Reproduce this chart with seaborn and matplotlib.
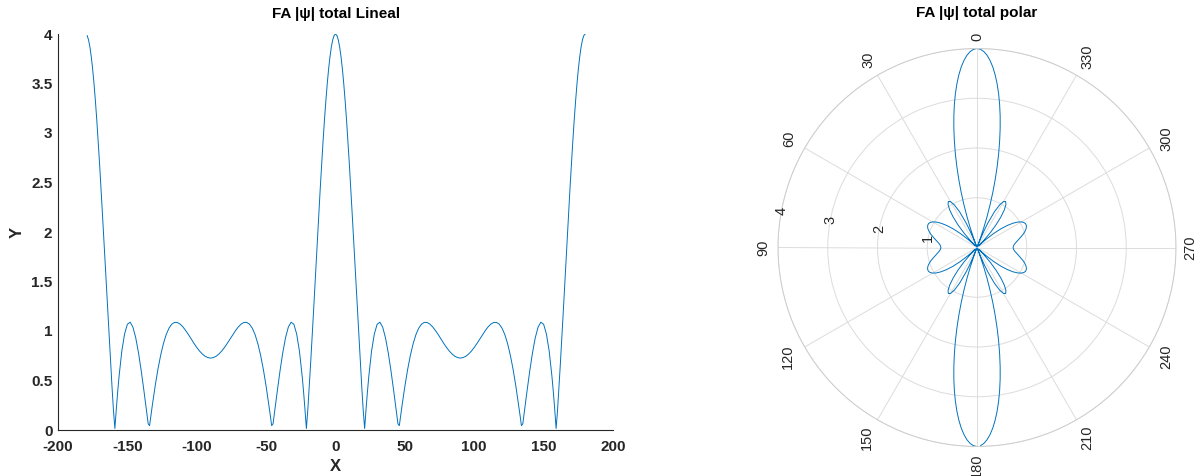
import numpy as np
import pandas as pd
import matplotlib
matplotlib.use("Agg")
import matplotlib.pyplot as plt
import seaborn as sns

# the pattern is symmetric about 0 deg and about +/-90 deg.
half_angles = [0, 1, 2, 3, 4, 5, 6, 7, 8, 9, 10, 11, 12, 13, 14, 15, 16, 17, 18,
               19, 20, 21, 22, 23, 24, 26, 28, 30, 32, 34, 36, 38, 40, 42, 44,
               45, 46, 47, 48, 50, 52, 54, 56, 58, 60, 62, 64, 66, 68, 70, 72,
               74, 76, 78, 80, 82, 84, 86, 88, 90]
half_values = [4.000, 3.985, 3.941, 3.869, 3.768, 3.642, 3.490, 3.316, 3.122,
               2.909, 2.681, 2.440, 2.190, 1.934, 1.673, 1.412, 1.154, 0.900,
               0.654, 0.418, 0.194, 0.015, 0.208, 0.384, 0.541, 0.798, 0.971,
               1.068, 1.089, 1.039, 0.933, 0.781, 0.596, 0.389, 0.172, 0.063,
               0.044, 0.149, 0.251, 0.442, 0.612, 0.756, 0.874, 0.965, 1.029,
               1.069, 1.087, 1.086, 1.070, 1.042, 1.005, 0.965, 0.919, 0.875,
               0.834, 0.798, 0.768, 0.745, 0.732, 0.726]
x_start = -179

x_ticks = [-200, -150, -100, -50, 0, 50, 100, 150, 200]
x_tick_labels = ["-200", "-150", "-100", "-50", "0", "50", "100", "150", "200"]
y_ticks = [0, 0.5, 1, 1.5, 2, 2.5, 3, 3.5, 4]
y_tick_labels = ["0", "0.5", "1", "1.5", "2", "2.5", "3", "3.5", "4"]
theta_ticks = [0, 30, 60, 90, 120, 150, 180, 210, 240, 270, 300, 330]
r_ticks = [1, 2, 3, 4]

title_lin = "FA |\u03c8| total Lineal"
title_pol = "FA |\u03c8| total polar"

# assemble the full -180..180 sweep by reflection
A = np.array(half_angles, dtype=float)
V = np.array(half_values, dtype=float)
ang_pos = np.concatenate([A, 180 - A[::-1][1:]])
val_pos = np.concatenate([V, V[::-1][1:]])
ang = np.concatenate([-ang_pos[::-1][:-1], ang_pos])
val = np.concatenate([val_pos[::-1][:-1], val_pos])
keep = ang >= x_start
df = pd.DataFrame({"X": ang[keep], "Y": val[keep]})
df["theta"] = np.deg2rad(df["X"])

sns.set_style("white")
plt.rcParams["font.family"] = ["Liberation Sans", "DejaVu Sans"]

W, H = 1202, 476
fig = plt.figure(figsize=(W / 100, H / 100), dpi=100)
line_color = "#0072BD"
txt = "#262626"

# ---------------- linear plot ----------------
ax1 = fig.add_axes([58 / W, 1 - 430 / H, (613 - 58) / W, (430 - 34) / H])
sns.lineplot(data=df, x="X", y="Y", ax=ax1, color=line_color, linewidth=0.7,
             sort=False, estimator=None)
ax1.set_xlim(-200, 200)
ax1.set_ylim(0, 4)
ax1.set_xticks(x_ticks)
ax1.set_xticklabels(x_tick_labels, fontweight="bold", fontsize=11, color=txt)
ax1.set_yticks(y_ticks)
ax1.set_yticklabels(y_tick_labels, fontweight="bold", fontsize=11, color=txt)
ax1.tick_params(axis="both", direction="in", length=5, width=0.8, color=txt)
ax1.tick_params(axis="x", pad=7)
ax1.tick_params(axis="y", pad=4)
for s in ["top", "right"]:
    ax1.spines[s].set_visible(False)
for s in ["left", "bottom"]:
    ax1.spines[s].set_color(txt)
    ax1.spines[s].set_linewidth(0.8)
ax1.set_xlabel("X", fontweight="bold", fontsize=12, color=txt, labelpad=4)
ax1.set_ylabel("Y", fontweight="bold", fontsize=12, color=txt, labelpad=5)
fig.text(336 / W, 1 - 14 / H, title_lin, ha="center", va="center",
         fontweight="bold", fontsize=11, color="black")

# ---------------- polar plot ----------------
R = 199
cx, cy = 977, 247.5
ax2 = fig.add_axes([(cx - R) / W, 1 - (cy + R) / H, 2 * R / W, 2 * R / H],
                   projection="polar")
ax2.set_theta_zero_location("N")
ax2.set_theta_direction(1)
sns.lineplot(data=df, x="theta", y="Y", ax=ax2, color=line_color, linewidth=0.7,
             sort=False, estimator=None)
ax2.set_ylim(0, 4)
ax2.set_thetagrids(theta_ticks, labels=[""] * len(theta_ticks))
ax2.set_rgrids(r_ticks, labels=[""] * len(r_ticks))
ax2.grid(True, color="#dcdcdc", linewidth=0.7)
ax2.spines["polar"].set_color("#cccccc")
ax2.spines["polar"].set_linewidth(0.7)
ax2.tick_params(length=0)
ax2.set_xlabel("")
ax2.set_ylabel("")

for a in theta_ticks:
    t = np.deg2rad(a)
    s = str(a)
    L = 7.6 * len(s)
    Hh = 13
    ext = 0.5 * (abs(np.sin(t)) * Hh + abs(np.cos(t)) * L) + 8
    dx, dy = -np.sin(t) * ext, np.cos(t) * ext
    ax2.annotate(s, xy=(t, 4), xytext=(dx * 0.72, dy * 0.72),
                 textcoords="offset points", rotation=90, ha="center",
                 va="center", fontsize=10.5, color=txt, annotation_clip=False)

for k in r_ticks:
    ax2.text(np.deg2rad(79.5), k, str(k), rotation=90, ha="center", va="center",
             fontsize=10.5, color=txt, clip_on=False)

fig.text(cx / W, 1 - 13 / H, title_pol, ha="center", va="center",
         fontweight="bold", fontsize=11, color="black")

fig.savefig("out.png", dpi=100)
